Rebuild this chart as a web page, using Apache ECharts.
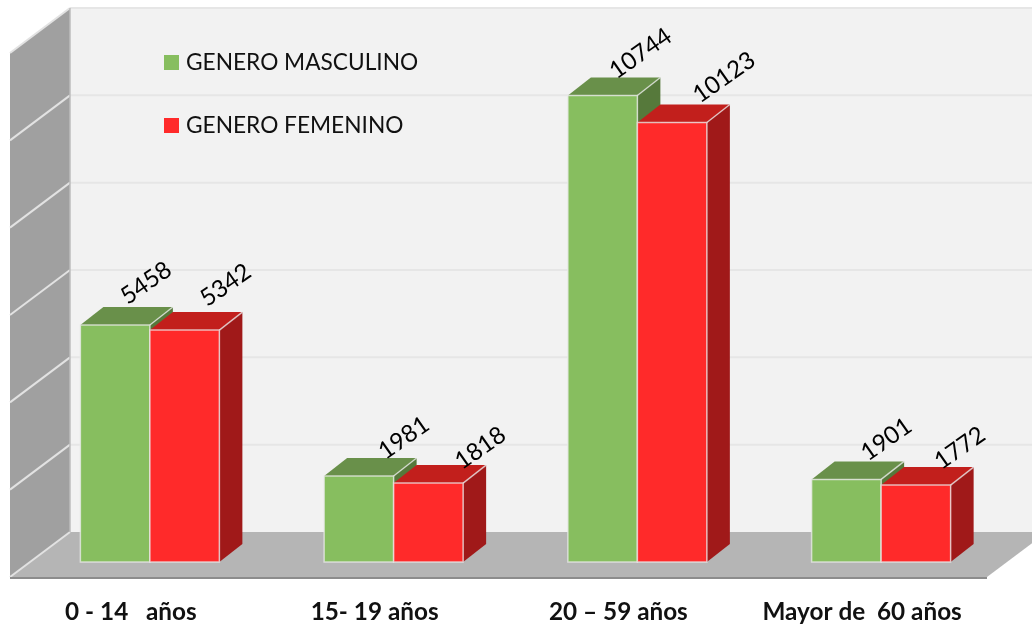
<!DOCTYPE html>
<html>
<head>
<meta charset="utf-8">
<style>
  html, body { margin: 0; padding: 0; background: #fff; }
  #chart { width: 1032px; height: 627px; }
</style>
<script src="https://cdn.jsdelivr.net/npm/echarts@6/dist/echarts.min.js"></script>
</head>
<body>
<div id="chart"></div>
<script>
var categories = ['0 - 14   años', '15- 19 años', '20 – 59 años', 'Mayor de  60 años'];
var maleValues = [5458, 1981, 10744, 1901];
var femaleValues = [5342, 1818, 10123, 1772];
var yTicks = [0, 2000, 4000, 6000, 8000, 10000, 12000];
var maleName = 'GENERO MASCULINO';
var femaleName = 'GENERO FEMENINO';

var FONT = 'Lato, "Open Sans", sans-serif';

// look of the fake 3d
var barW = 69.5;
var barDx = 23, barDy = -18;
var wallDx = 60, wallDy = -45;
var floorDrop = 15; // front edge of the floor sits below the bars' base
var wallStretch = 524 / 521; // wall ticks run a bit wider than the bars' scale
var greens = { front: '#87BE5F', top: '#69904A', side: '#56793B' };
var reds = { front: '#FF2A2A', top: '#C21F1C', side: '#A01919' };
var faceLine = 'rgba(235,235,235,0.75)';

// rotated value labels were hand placed in the original, nudge them per bar
var maleLabelNudge = [[-7, -2], [7, 2], [0, -2], [2, 0]];
var femaleLabelNudge = [[-6, -5], [5, 5], [5, -5], [-3, 3]];

function poly(points, fill, stroke, width) {
  return {
    type: 'polygon',
    shape: { points: points },
    style: { fill: fill, stroke: stroke || null, lineWidth: width || 0 }
  };
}

function line(x1, y1, x2, y2, color, width) {
  return {
    type: 'line',
    shape: { x1: x1, y1: y1, x2: x2, y2: y2 },
    style: { stroke: color, lineWidth: width, fill: null }
  };
}

// walls and floor, taken from the value axis
function renderRoom(params, api) {
  var cs = params.coordSys;
  var base = api.coord([0, 0])[1];
  var frontY = base + floorDrop;
  var backY = frontY + wallDy;
  var frontL = cs.x - 18;
  var backL = frontL + wallDx;
  var frontR = frontL + 977;
  var backR = frontR + wallDx;
  function wallY(t) {
    return backY - (base - api.coord([0, t])[1]) * wallStretch;
  }
  var topY = wallY(yTicks[yTicks.length - 1]);

  var kids = [];
  kids.push(poly([[backL, topY], [backR, topY], [backR, backY], [backL, backY]], '#F2F2F2'));
  kids.push(poly([[frontL, topY - wallDy], [backL, topY], [backL, backY], [frontL, frontY]], '#A0A0A0'));
  kids.push(poly([[frontL, frontY], [backL, backY], [backR, backY], [frontR, frontY]], '#B5B5B5'));

  yTicks.forEach(function (t) {
    var y = wallY(t);
    if (t > 0) kids.push(line(backL, y, backR, y, '#E6E6E6', 2));
    kids.push(line(frontL, y - wallDy, backL, y, '#E2E2E2', 2));
  });
  kids.push(line(backL, topY, backL, backY, '#BDBDBD', 1.5));
  kids.push(line(frontL, frontY + 1, frontR, frontY + 1, '#8C8C8C', 2));
  return { type: 'group', children: kids };
}

function barRenderer(colors, side, labelDx, labelDy, nudge) {
  return function (params, api) {
    var p = api.coord([api.value(0), api.value(1)]);
    var base = api.coord([api.value(0), 0])[1];
    var x0 = side < 0 ? p[0] - barW : p[0];
    var x1 = x0 + barW;
    var y = p[1];
    var n = nudge[params.dataIndex];
    return {
      type: 'group',
      children: [
        poly([[x1, y], [x1 + barDx, y + barDy], [x1 + barDx, base + barDy], [x1, base]], colors.side),
        poly([[x0, y], [x0 + barDx, y + barDy], [x1 + barDx, y + barDy], [x1, y]], colors.top),
        line(x1, y, x1 + barDx, y + barDy, faceLine, 1.5),
        {
          type: 'rect',
          shape: { x: x0, y: y, width: barW, height: base - y },
          style: { fill: colors.front, stroke: faceLine, lineWidth: 1.5 }
        },
        {
          type: 'text',
          x: (x0 + x1) / 2 + labelDx + n[0],
          y: y + labelDy + n[1],
          rotation: 35 * Math.PI / 180,
          style: {
            text: String(api.value(1)),
            textAlign: 'center',
            textVerticalAlign: 'middle',
            fontFamily: FONT,
            fontSize: 24,
            fill: '#000'
          }
        }
      ]
    };
  };
}

function toPairs(values) {
  return values.map(function (v, i) { return [i, v]; });
}

var chart = echarts.init(document.getElementById('chart'));
chart.setOption({
  animation: false,
  backgroundColor: '#fff',
  grid: { left: 28, right: 29, top: 41, bottom: 65 },
  legend: {
    data: [
      { name: maleName, icon: 'rect' },
      { name: femaleName, icon: 'rect' }
    ],
    orient: 'vertical',
    left: 159,
    top: 46,
    itemWidth: 15,
    itemHeight: 15,
    itemGap: 40,
    selectedMode: false,
    textStyle: { fontFamily: FONT, fontSize: 22.7, color: '#111', padding: [0, 0, 0, 2] }
  },
  xAxis: {
    type: 'category',
    data: categories,
    axisLine: { show: false },
    axisTick: { show: false },
    axisLabel: {
      interval: 0,
      margin: 38,
      padding: [0, 38, 0, 0],
      fontFamily: FONT,
      fontWeight: 'bold',
      fontSize: 24.3,
      color: '#111'
    }
  },
  yAxis: {
    type: 'value',
    min: 0,
    max: 12000,
    interval: 2000,
    axisLabel: { show: false },
    axisLine: { show: false },
    axisTick: { show: false },
    splitLine: { show: false }
  },
  series: [
    {
      type: 'custom',
      name: 'room',
      silent: true,
      z: 1,
      data: [[0, 0]],
      encode: { x: 0, y: 1 },
      renderItem: renderRoom
    },
    {
      type: 'custom',
      name: maleName,
      z: 2,
      itemStyle: { color: greens.front },
      data: toPairs(maleValues),
      encode: { x: 0, y: 1 },
      renderItem: barRenderer(greens, -1, 38, -40, maleLabelNudge)
    },
    {
      type: 'custom',
      name: femaleName,
      z: 3,
      itemStyle: { color: reds.front },
      data: toPairs(femaleValues),
      encode: { x: 0, y: 1 },
      renderItem: barRenderer(reds, 1, 47, -40, femaleLabelNudge)
    }
  ]
});
</script>
</body>
</html>
